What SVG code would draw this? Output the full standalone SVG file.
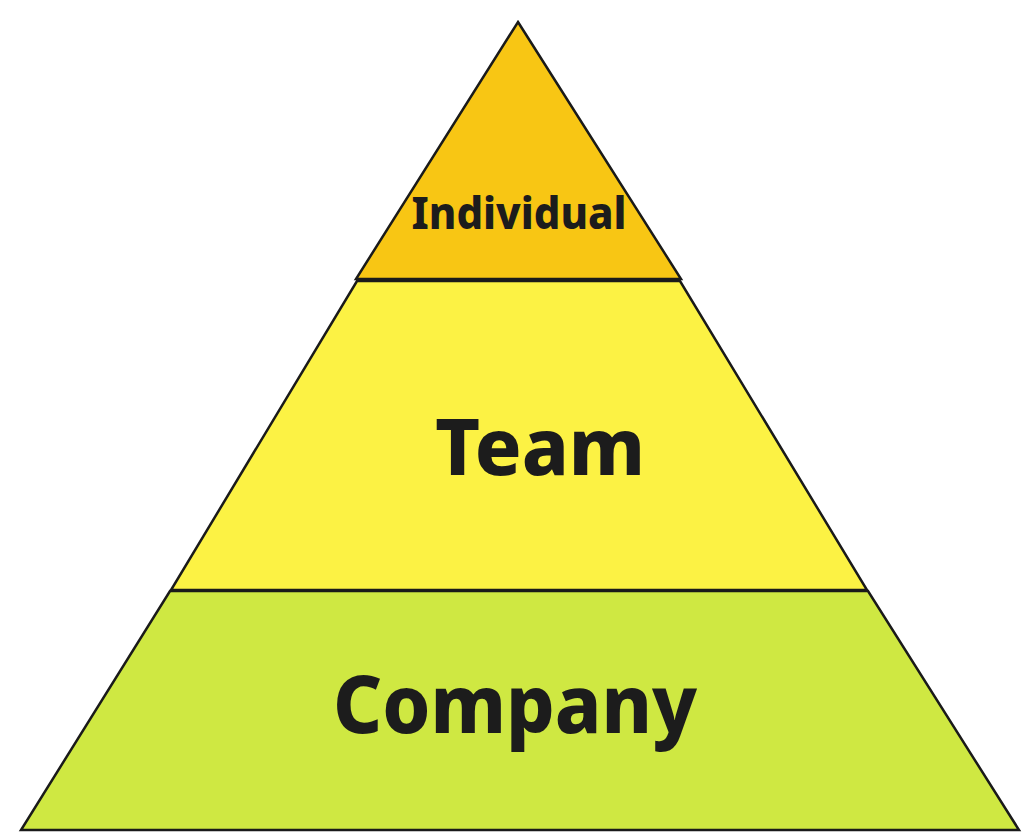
<svg xmlns="http://www.w3.org/2000/svg" width="1024" height="840" viewBox="0 0 1024 840">
<style>
.tier{stroke:#1a1a1a;stroke-width:2.5;stroke-linejoin:miter}
.lbl{font-family:"Noto Sans","Liberation Sans",sans-serif;font-weight:800;fill:#1c1c1c;text-anchor:middle}
</style>
<rect width="1024" height="840" fill="#ffffff"/>
<g id="company">
<polygon class="tier" points="170,591 868,591 1019,830 21,830" fill="#CFE842"/>
<text class="lbl" x="515" y="733" font-size="80" textLength="364" lengthAdjust="spacingAndGlyphs">Company</text>
</g>
<g id="team">
<polygon class="tier" points="357,281 680,281 867,590 171,590" fill="#FCF244"/>
<text class="lbl" x="540" y="475" font-size="78" textLength="210" lengthAdjust="spacingAndGlyphs">Team</text>
</g>
<g id="individual">
<polygon class="tier" points="518,22 681,279 356,279" fill="#F8C614"/>
<text class="lbl" x="519" y="229" font-size="45" textLength="215" lengthAdjust="spacingAndGlyphs">Individual</text>
</g>
<g id="connectors"></g>
</svg>
